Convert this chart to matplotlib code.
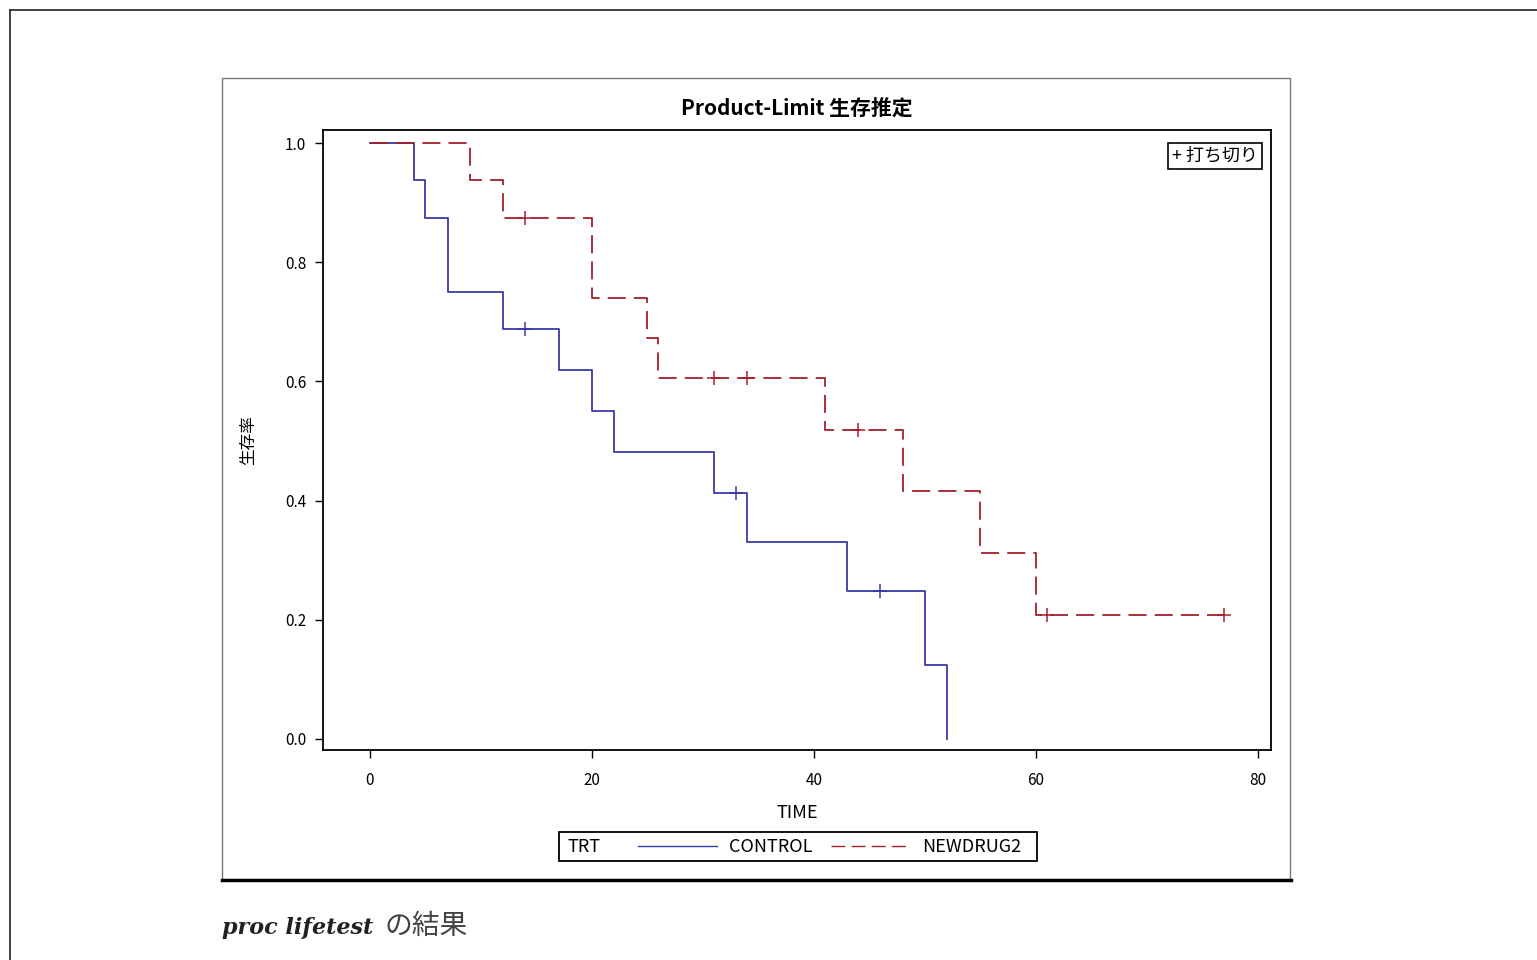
import matplotlib.pyplot as plt
import numpy as np
from matplotlib.lines import Line2D
from matplotlib.patches import Rectangle

plt.rcParams['font.family'] = ['Noto Sans CJK JP', 'DejaVu Sans']

# Kaplan-Meier steps
control_time = [0, 4, 5, 7, 12, 17, 20, 22, 31, 34, 43, 50, 52]
control_surv = [1.0, 0.9375, 0.875, 0.75, 0.6875, 0.6188, 0.55, 0.4813,
                0.4125, 0.33, 0.2475, 0.1238, 0.0]
control_censor = [14, 33, 46]

newdrug_time = [0, 9, 12, 20, 25, 26, 41, 48, 55, 60, 77]
newdrug_surv = [1.0, 0.9375, 0.875, 0.7404, 0.6731, 0.6058, 0.5193,
                0.4154, 0.3116, 0.2077, 0.2077]
newdrug_censor = [14, 31, 34, 44, 61, 77]

x_ticks = [0, 20, 40, 60, 80]
y_ticks = [0.0, 0.2, 0.4, 0.6, 0.8, 1.0]

blue = '#3a3aa8'
red = '#a2202c'
dash = (10, 4.5)

W, H = 1537, 960
fig = plt.figure(figsize=(W / 100, H / 100), dpi=100)


def fx(px):
    return px / W


def fy(py):
    return 1 - py / H


# page frame and chart box
fig.add_artist(Line2D([fx(10), fx(10)], [fy(10), 0], color='#222222', lw=1.2))
fig.add_artist(Line2D([fx(10), 1], [fy(10), fy(10)], color='#222222', lw=1.2))
fig.add_artist(Rectangle((fx(222), fy(880)), fx(1290) - fx(222), fy(78) - fy(880),
                         fill=False, edgecolor='#777777', lw=1.0))
fig.add_artist(Line2D([fx(222), fx(1291)], [fy(880), fy(880)], color='black', lw=2.5))

ax = fig.add_axes([fx(323), fy(750), fx(1271) - fx(323), fy(130) - fy(750)])


def at_times(times, surv, pts):
    idx = np.searchsorted(times, pts, side='right') - 1
    return np.asarray(surv)[idx]


ax.step(control_time, control_surv, where='post', color=blue, lw=1.3)
ax.step(newdrug_time, newdrug_surv, where='post', color=red, lw=1.3,
        dashes=dash)
ax.plot(control_censor, at_times(control_time, control_surv, control_censor),
        '+', color=blue, ms=10, mew=1.1)
ax.plot(newdrug_censor, at_times(newdrug_time, newdrug_surv, newdrug_censor),
        '+', color=red, ms=10, mew=1.1)

ax.set_xlim(-4.23, 81.2)
ax.set_ylim(-0.0185, 1.022)
ax.set_xticks(x_ticks)
ax.set_yticks(y_ticks)
ax.set_yticklabels([f'{v:.1f}' for v in y_ticks])
ax.tick_params(direction='out', length=6, width=1, labelsize=11)
ax.tick_params(axis='x', pad=10)
ax.tick_params(axis='y', pad=6)
for s in ax.spines.values():
    s.set_linewidth(1.3)

ax.set_title('Product-Limit 生存推定', fontsize=15, fontweight='bold', pad=11)
ax.set_xlabel('TIME', fontsize=13, labelpad=11)
ax.set_ylabel('生存率', fontsize=12, labelpad=20)

# censor key in the upper right
ax.text(0.986, 0.973, '+ 打ち切り', transform=ax.transAxes, ha='right', va='top',
        fontsize=13, bbox=dict(boxstyle='square,pad=0.22', fc='white',
                               ec='black', lw=1.2))

# bottom legend
fig.add_artist(Rectangle((fx(559), fy(861)), fx(1037) - fx(559), fy(832) - fy(861),
                         fill=False, edgecolor='black', lw=1.3))
fig.text(fx(567), fy(847), 'TRT', fontsize=13, ha='left', va='center')
handles = [Line2D([], [], color=blue, lw=1.0),
           Line2D([], [], color=red, lw=1.0, dashes=dash)]
fig.legend(handles, ['CONTROL', 'NEWDRUG2'], loc='center left',
           bbox_to_anchor=(fx(638), fy(847)), ncol=2, frameon=False,
           fontsize=13, handlelength=4.4, handletextpad=0.65, columnspacing=1.0,
           borderpad=0, borderaxespad=0)

# caption below the chart
fig.text(fx(222), fy(928), 'proc lifetest', fontsize=16, family='DejaVu Serif',
         style='italic', fontweight='bold', color='#222222', va='center')
fig.text(fx(385), fy(926), 'の結果', fontsize=20, color='#444444',
         va='center')

fig.savefig('out.png', dpi=100)
